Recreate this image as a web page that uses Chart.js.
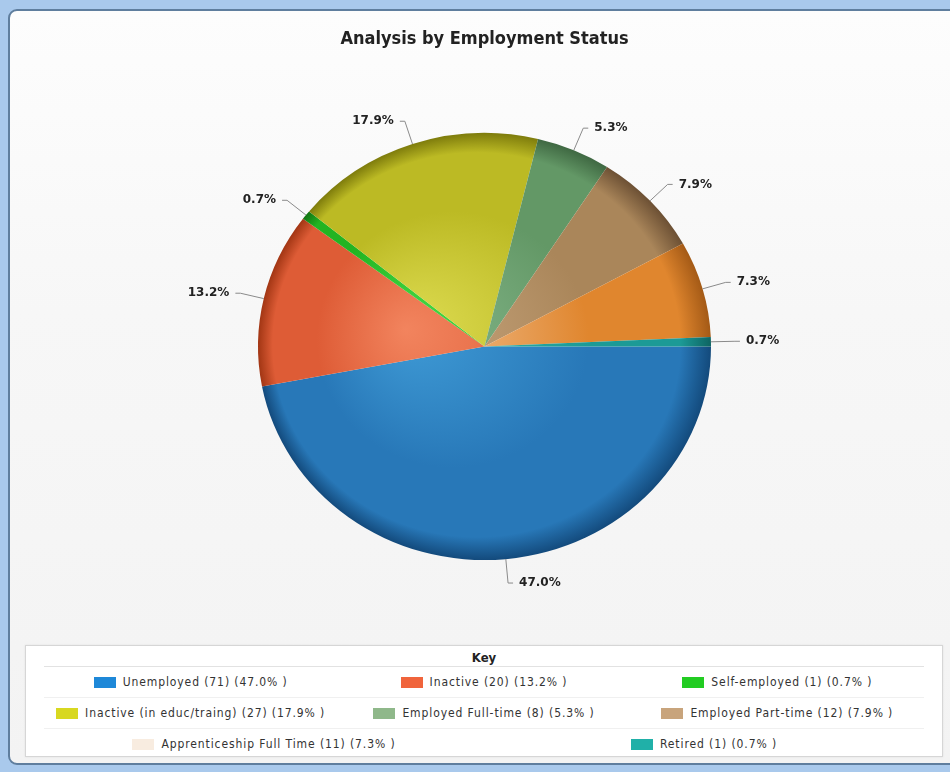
<!DOCTYPE html>
<html>
<head>
<meta charset="utf-8">
<title>Analysis by Employment Status</title>
<script src="https://cdn.jsdelivr.net/npm/chart.js@4/dist/chart.umd.min.js"></script>
<style>
    html, body { margin: 0; padding: 0; }
    body { width: 950px; height: 772px; background: #a9c9ec; position: relative; overflow: hidden; }
    #panel {
        position: absolute; left: 8px; top: 9px; width: 960px; height: 752px;
        border: 2px solid #5f7e9e; border-radius: 9px;
        background: linear-gradient(#fdfdfd, #f7f7f7 40%, #f3f3f3);
    }
    #chart-wrap { position: absolute; left: 0; top: 0; width: 950px; height: 640px; }
    #key {
        position: absolute; left: 25px; top: 645px; width: 916px; height: 110px;
        background: #fff; border: 1px solid #d6d6d6; box-shadow: 0 0 2px rgba(0,0,0,0.08);
        font-family: "DejaVu Sans Condensed", "DejaVu Sans", sans-serif; font-size: 12px; color: #333;
        letter-spacing: 0.9px;
    }
    #key .key-title {
        text-align: center; font-weight: bold; font-size: 13px; color: #222; letter-spacing: 0;
        height: 20px; line-height: 24px; margin: 0 18px;
        border-bottom: 1px solid #e2e2e2;
    }
    #key .row { display: flex; height: 30px; margin: 0 18px; align-items: center; border-bottom: 1px solid #f0f0f0; }
    #key .row:last-child { border-bottom: none; }
    #key .cell { flex: 1; display: flex; justify-content: center; align-items: center; }
    #key .swatch { width: 22px; height: 11px; margin-right: 7px; }
</style>
</head>
<body>
<div id="panel"></div>
<div id="chart-wrap"><canvas id="statusChart" width="950" height="640"></canvas></div>
<div id="key"></div>

<script>
// Employment status breakdown
const categories = ['Unemployed', 'Inactive', 'Self-employed', 'Inactive (in educ/traing)',
    'Employed Full-time', 'Employed Part-time', 'Apprenticeship Full Time', 'Retired'];
const counts = [71, 20, 1, 27, 8, 12, 11, 1];
const percentages = [47.0, 13.2, 0.7, 17.9, 5.3, 7.9, 7.3, 0.7];

// slice shading: [light, base, rim]
const sliceShades = [
    ['#3f9bd6', '#2878b8', '#134a7c'],
    ['#f2845e', '#de5c36', '#a23614'],
    ['#46da46', '#22b422', '#127412'],
    ['#dedc52', '#bcba24', '#7e7c0c'],
    ['#86b88c', '#639866', '#3f6842'],
    ['#c8a67e', '#aa865a', '#6c5034'],
    ['#f2c498', '#e0862e', '#a45a16'],
    ['#34bab2', '#1c9a96', '#0e6462']
];
// key swatch colours
const keyColours = ['#1e88d8', '#f0643c', '#22cc22', '#d8d820', '#8fb88a', '#c8a47c', '#f8ece0', '#20b0a8'];
const keyRows = [[0, 1, 2], [3, 4, 5], [6, 7]];

const yScale = 0.943; // pie is drawn slightly flattened

function sliceFill(context) {
    const chart = context.chart;
    const area = chart.chartArea;
    const shade = sliceShades[context.dataIndex];
    if (!area) return shade[1];
    const cx = (area.left + area.right) / 2;
    const cy = (area.top + area.bottom) / 2;
    const r = Math.min(area.right - area.left, area.bottom - area.top) / 2;
    const g = chart.ctx.createRadialGradient(cx - r * 0.35, cy - r * 0.08, 0, cx, cy, r);
    g.addColorStop(0, shade[0]);
    g.addColorStop(0.6, shade[1]);
    g.addColorStop(0.9, shade[1]);
    g.addColorStop(1, shade[2]);
    return g;
}

const squashPlugin = {
    id: 'squash',
    beforeDatasetsDraw(chart) {
        const arc = chart.getDatasetMeta(0).data[0];
        const ctx = chart.ctx;
        ctx.save();
        ctx.translate(arc.x, arc.y);
        ctx.scale(1, yScale);
        ctx.translate(-arc.x, -arc.y);
    },
    afterDatasetsDraw(chart) {
        chart.ctx.restore();
    }
};

// percentage labels outside the pie with elbow leader lines
const outsideLabels = {
    id: 'outsideLabels',
    afterDraw(chart) {
        const ctx = chart.ctx;
        const arcs = chart.getDatasetMeta(0).data;
        ctx.save();
        ctx.font = 'bold 12px "DejaVu Sans", Verdana, sans-serif';
        ctx.textBaseline = 'middle';
        arcs.forEach((arc, i) => {
            const mid = (arc.startAngle + arc.endAngle) / 2;
            const cos = Math.cos(mid), sin = Math.sin(mid);
            const r = arc.outerRadius;
            const x0 = arc.x + r * cos, y0 = arc.y + r * yScale * sin;
            const x1 = x0 + 24 * cos, y1 = y0 + 24 * sin;
            const dir = cos >= 0 ? 1 : -1;
            const x2 = x1 + 5 * dir;
            ctx.strokeStyle = '#8a8a8a';
            ctx.lineWidth = 1;
            ctx.beginPath();
            ctx.moveTo(x0, y0);
            ctx.lineTo(x1, y1);
            ctx.lineTo(x2, y1);
            ctx.stroke();
            ctx.fillStyle = '#222';
            ctx.textAlign = dir > 0 ? 'left' : 'right';
            ctx.fillText(percentages[i].toFixed(1) + '%', x2 + 6 * dir, y1);
        });
        ctx.restore();
    }
};

new Chart(document.getElementById('statusChart'), {
    type: 'pie',
    data: {
        labels: categories,
        datasets: [{
            data: percentages,
            backgroundColor: sliceFill,
            borderWidth: 0
        }]
    },
    options: {
        responsive: false,
        animation: false,
        events: [],
        rotation: 90,
        layout: { padding: { left: 19, right: 0, top: 0, bottom: 67 } },
        plugins: {
            legend: { display: false },
            tooltip: { enabled: false },
            title: {
                display: true,
                text: 'Analysis by Employment Status',
                color: '#222',
                font: { family: '"DejaVu Sans Condensed", "DejaVu Sans", sans-serif', size: 18, weight: 'bold' },
                padding: { top: 29, bottom: 69.4 }
            }
        }
    },
    plugins: [squashPlugin, outsideLabels]
});

// key below the chart
const key = document.getElementById('key');
key.innerHTML = '<div class="key-title">Key</div>';
keyRows.forEach(row => {
    const rowEl = document.createElement('div');
    rowEl.className = 'row';
    row.forEach(i => {
        const cell = document.createElement('div');
        cell.className = 'cell';
        cell.innerHTML = '<span class="swatch" style="background:' + keyColours[i] + '"></span>' +
            '<span>' + categories[i] + ' (' + counts[i] + ') (' + percentages[i].toFixed(1) + '% )</span>';
        rowEl.appendChild(cell);
    });
    key.appendChild(rowEl);
});
</script>
</body>
</html>
